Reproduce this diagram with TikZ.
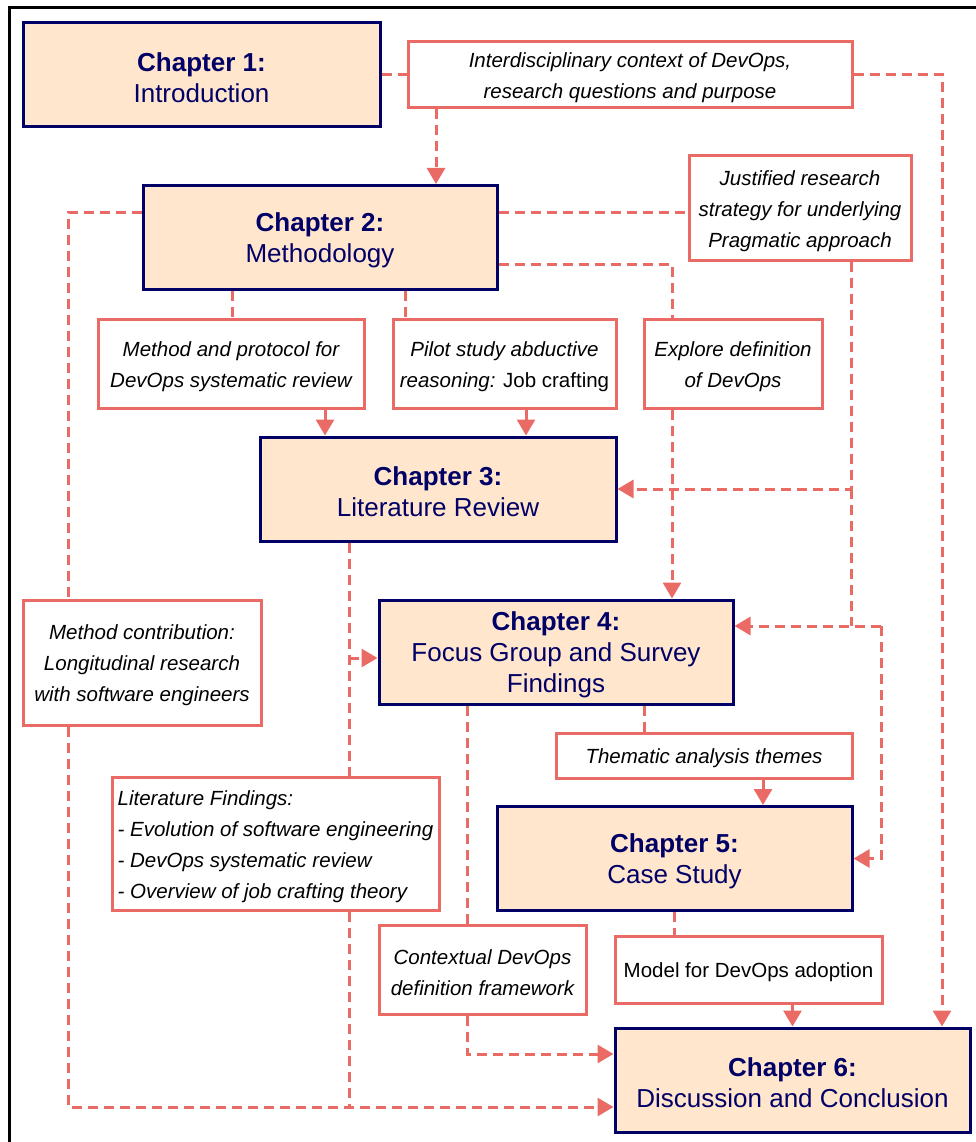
\documentclass[tikz,border=0pt]{standalone}
\usepackage{fontspec}
\setmainfont{Liberation Sans}
\usetikzlibrary{arrows.meta}
\definecolor{chapfill}{HTML}{FFE6CC}
\definecolor{navy}{HTML}{000066}
\definecolor{salmon}{HTML}{EA6B66}
% taller first line so the text sits a little lower in its box
\newcommand\chapstrut{\rule{0pt}{25pt}}
\newcommand\labstrut{\rule{0pt}{21pt}}

\begin{document}
\begin{tikzpicture}[x=1pt,y=-1pt,
  chapbox/.style={draw=navy, fill=chapfill, line width=3pt, text=navy, align=center,
    inner sep=0pt, font=\fontsize{26}{31}\selectfont},
  labelbox/.style={draw=salmon, fill=white, line width=3pt, align=center,
    inner sep=0pt, font=\fontsize{20.5}{31}\selectfont\itshape},
  link/.style={draw=salmon, line width=3pt, dash pattern=on 10pt off 6pt},
  arrowlink/.style={link, -{Triangle[length=16pt,width=18pt]}},
]
\useasboundingbox (0,0) rectangle (976,1142);

% outer frame
\draw[line width=3pt] (9,1170) -- (9,8) -- (1000,8);

% chapters
\node[chapbox, minimum width=357pt, minimum height=104pt] (c1) at (201.5,75)
  {\chapstrut\textbf{Chapter 1:}\\Introduction};
\node[chapbox, minimum width=354pt, minimum height=104pt] (c2) at (320,237.5)
  {\chapstrut\textbf{Chapter 2:}\\Methodology};
\node[chapbox, minimum width=356pt, minimum height=104pt] (c3) at (438,489)
  {\chapstrut\textbf{Chapter 3:}\\Literature Review};
\node[chapbox, minimum width=354pt, minimum height=104pt] (c4) at (556,652)
  {\chapstrut\textbf{Chapter 4:}\\Focus Group and Survey\\Findings};
\node[chapbox, minimum width=355pt, minimum height=104pt] (c5) at (674.5,858.5)
  {\chapstrut\textbf{Chapter 5:}\\Case Study};
\node[chapbox, minimum width=355pt, minimum height=104pt] (c6) at (792.5,1080)
  {\chapstrut\textbf{Chapter 6:}\\Discussion and Conclusion};

% outputs between chapters
\node[labelbox, minimum width=444pt, minimum height=66pt] (lInter) at (630,75)
  {\labstrut Interdisciplinary context of DevOps,\\research questions and purpose};
\node[labelbox, minimum width=222pt, minimum height=104pt] (lJust) at (800,208)
  {\labstrut Justified research\\strategy for underlying\\Pragmatic approach};
\node[labelbox, minimum width=266pt, minimum height=89pt] (lMeth) at (231,363.5)
  {\labstrut Method and protocol for\\DevOps systematic review};
\node[labelbox, minimum width=223pt, minimum height=89pt] (lPilot) at (504.5,363.5)
  {\labstrut Pilot study abductive\\reasoning: \upshape Job crafting};
\node[labelbox, minimum width=178pt, minimum height=89pt] (lExpl) at (733,363.5)
  {\labstrut Explore definition\\of DevOps};
\node[labelbox, minimum width=238pt, minimum height=125pt] (lMC) at (142,662.5)
  {\labstrut Method contribution:\\Longitudinal research\\with software engineers};
\node[labelbox, minimum width=327pt, minimum height=133pt, align=left] (lLit) at (275.5,843.5)
  {\labstrut Literature Findings:\\- Evolution of software engineering\\- DevOps systematic review\\- Overview of job crafting theory};
\node[labelbox, minimum width=296pt, minimum height=45pt] (lTheme) at (704,755.5)
  {\labstrut Thematic analysis themes};
\node[labelbox, minimum width=207pt, minimum height=89pt] (lCtx) at (482.5,969.5)
  {\labstrut Contextual DevOps\\definition framework};
\node[labelbox, minimum width=267pt, minimum height=67pt] (lModel) at (748.5,969.5)
  {\labstrut\upshape Model for DevOps adoption};

% routing columns and rows
\coordinate (x68) at (68,0);
\coordinate (x232) at (232,0);
\coordinate (x325) at (325,0);
\coordinate (x349) at (349,0);
\coordinate (x405) at (405,0);
\coordinate (x436) at (436,0);
\coordinate (x467) at (467,0);
\coordinate (x526) at (526,0);
\coordinate (x644) at (644,0);
\coordinate (x672) at (672,0);
\coordinate (x674) at (674,0);
\coordinate (x763) at (763,0);
\coordinate (x851) at (851,0);
\coordinate (x881) at (881,0);
\coordinate (x942) at (942,0);
\coordinate (y212) at (0,212);
\coordinate (y264) at (0,264);
\coordinate (y626) at (0,626);
\coordinate (y658) at (0,658);
\coordinate (y1054) at (0,1054);
\coordinate (y1107) at (0,1107);

% chapter 1
\draw[link] (c1.east) -- (lInter.west);
\draw[arrowlink] (lInter.east) -| (c6.north -| x942);
\draw[arrowlink] (lInter.south -| x436) -- (c2.north -| x436);

% chapter 2
\draw[link] (c2.west |- y212) -| (lMC.north -| x68);
\draw[arrowlink] (lMC.south -| x68) |- (c6.west |- y1107);
\draw[link] (c2.east |- y212) -- (lJust.west |- y212);
\draw[link] (c2.east |- y264) -| (lExpl.north -| x672);
\draw[link] (c2.south -| x232) -- (lMeth.north -| x232);
\draw[link] (c2.south -| x405) -- (lPilot.north -| x405);

% into chapter 3
\draw[arrowlink] (lMeth.south -| x325) -- (c3.north -| x325);
\draw[arrowlink] (lPilot.south -| x526) -- (c3.north -| x526);
\draw[arrowlink] (lJust.south -| x851) |- (c3.east);

% research strategy onwards to chapters 4 and 5
\draw[link] (x851 |- c3.east) -- (x851 |- y626);
\draw[arrowlink] (x881 |- y626) -- (c4.east |- y626);
\draw[arrowlink] (x881 |- y626) |- (c5.east);

% into chapter 4
\draw[arrowlink] (lExpl.south -| x672) -- (c4.north -| x672);
\draw[link] (c3.south -| x349) -- (lLit.north -| x349);
\draw[arrowlink] (x349 |- y658) -- (c4.west |- y658);
\draw[link] (lLit.south -| x349) -- (x349 |- y1107);

% chapter 4 outputs
\draw[link] (c4.south -| x467) -- (lCtx.north -| x467);
\draw[arrowlink] (lCtx.south -| x467) |- (c6.west |- y1054);
\draw[link] (c4.south -| x644) -- (lTheme.north -| x644);
\draw[arrowlink] (lTheme.south -| x763) -- (c5.north -| x763);

% chapter 5 outputs
\draw[link] (c5.south -| x674) -- (lModel.north -| x674);
\draw[arrowlink] (lModel.south -| c6.north) -- (c6.north);
\end{tikzpicture}
\end{document}
